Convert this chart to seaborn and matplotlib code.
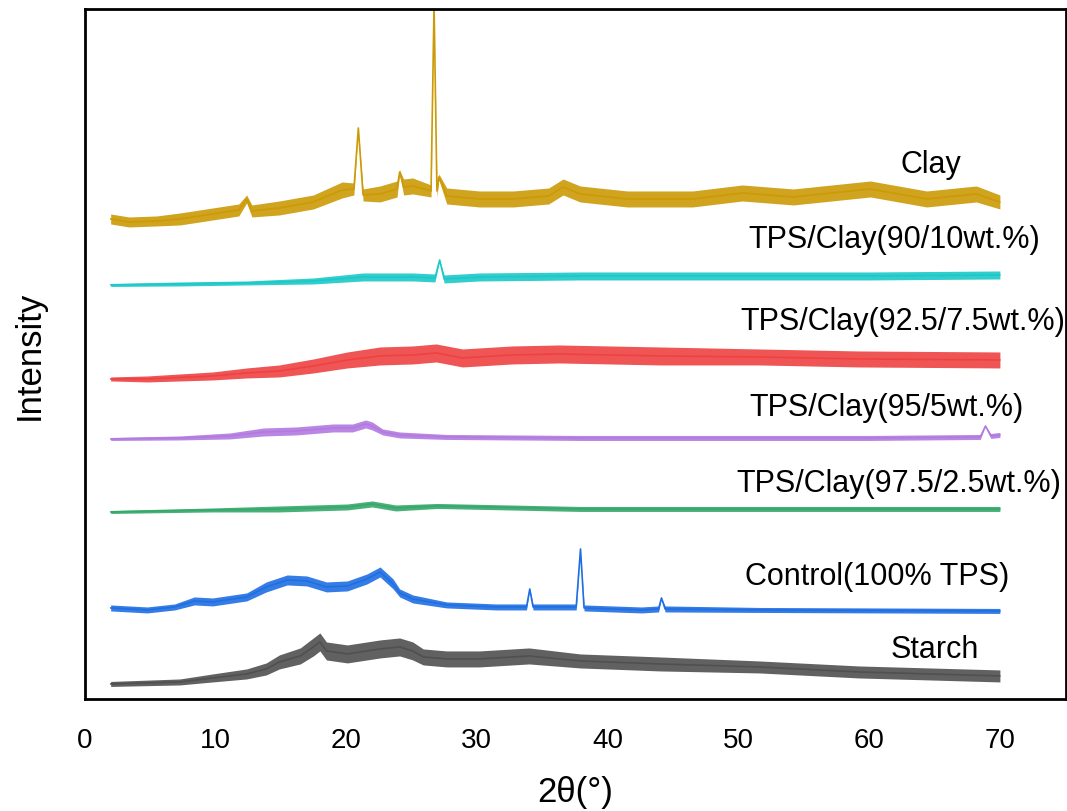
# XRD patterns of starch, TPS and TPS/clay films (stacked)
import numpy as np
import pandas as pd
import matplotlib
matplotlib.use("Agg")
import matplotlib.pyplot as plt
import seaborn as sns

# values (stacked intensity, arbitrary units)
# each curve: 2theta points, mean intensity, half-width of the noise band
clay_x = [2, 3.4, 5.5, 7.3, 9.8, 11.8, 12.4, 12.8, 14.9, 17.5, 19.7, 20.6, 20.94, 21.3, 22.6,
          23.9, 24.1, 24.4, 25.1, 26.5, 26.73, 26.95, 27.1, 27.7, 30.2, 32.8, 35.5, 36.6, 37.9,
          41.5, 46.5, 50.3, 54.2, 60.1, 64.4, 68.2, 70]
clay_y = [480, 477, 478, 480, 485, 489, 500, 488, 491, 497, 509, 510, 571, 504, 505,
          510, 527, 512, 513, 508, 695, 508, 522, 503, 500, 500, 503, 512, 505,
          500, 500, 506, 502, 510, 500, 505, 497]
clay_s = [5, 5, 5, 6, 6, 6, 4, 6, 7, 7, 8, 6, 0, 6, 8,
          8, 2, 8, 8, 6, 0, 6, 3, 8, 8, 8, 8, 8, 8,
          8, 8, 8, 8, 8, 8, 8, 7]

tc90_x = [2, 7.3, 12.4, 17.5, 21.3, 25.1, 26.8, 27.16, 27.5, 30.2, 37.9, 50, 60, 70]
tc90_y = [414, 415, 416, 418, 422, 422, 421, 439, 420, 422, 423, 423, 423, 424]
tc90_s = [1.5, 2, 2, 3, 4, 4, 4, 0, 4, 4, 4, 4, 4, 4]

tc925_x = [2, 4.8, 9.8, 12.4, 14.9, 17.5, 20.1, 22.6, 25.1, 26.9, 28.9, 32.7, 36.3, 44, 51.6, 59.2, 70]
tc925_y = [320, 320, 323, 326, 328, 333, 339, 343, 344, 346, 341, 344, 345, 343, 342, 340, 339]
tc925_s = [2, 3, 4, 5, 6, 7, 8, 9, 9, 9, 9, 9, 9, 9, 8, 8, 8]

tc95_x = [2, 7.3, 11.1, 13.7, 16.2, 19.0, 20.5, 21.5, 22.0, 22.8, 24.1, 27.7, 37.9, 50, 60,
          68.5, 68.9, 69.3, 70]
tc95_y = [260, 261, 263, 267, 268, 271, 271, 275, 273, 267, 264, 262, 261, 261, 261,
          262, 273, 263, 264]
tc95_s = [1.5, 2, 3, 4, 4, 4, 4, 4, 4, 3, 3, 2.5, 2.5, 2.5, 2.5, 2.5, 0, 2.5, 2.5]

tc975_x = [2, 9.8, 14.9, 20.1, 22.0, 23.8, 27, 37.9, 50, 60, 70]
tc975_y = [187, 189, 190, 192, 195, 191, 193, 190, 190, 190, 190]
tc975_s = [1.5, 2, 3, 3, 3, 3, 2.5, 2.5, 2.5, 2.5, 2.5]

ctrl_x = [2, 4.8, 6.9, 8.4, 9.8, 12.4, 13.9, 15.5, 17.0, 18.5, 20.1, 21.6, 22.6, 23.6, 24.1,
          25.1, 27.7, 31.5, 33.8, 34.05, 34.3, 35.3, 37.6, 37.93, 38.2, 42.6, 43.9, 44.12,
          44.4, 51.6, 70]
ctrl_y = [91, 89, 92, 98, 97, 102, 112, 119, 118, 112, 113, 120, 127, 115, 106,
          100, 94, 92, 92, 110, 92, 92, 92, 150, 91, 89, 90, 101, 90, 89, 88]
ctrl_s = [3, 3, 3, 4, 4, 4, 5, 5, 5, 5, 5, 5, 5, 5, 4,
          4, 3, 3, 3, 0, 3, 3, 3, 0, 3, 3, 3, 0, 3, 2.5, 2.5]

starch_x = [2, 7.3, 9.8, 12.4, 13.9, 14.9, 16.5, 17.5, 18.0, 18.5, 20.1, 22.6, 24.1, 25.1,
            25.9, 27.7, 30.2, 34.0, 37.9, 44, 51.6, 59.2, 70]
starch_y = [15, 17, 21, 25, 30, 37, 43, 52, 57, 48, 45, 50, 52, 48,
            42, 40, 40, 43, 38, 35, 32, 27, 23]
starch_s = [2.5, 3, 4, 5, 6, 7, 8, 9, 9, 9, 9, 9, 9, 9,
            8, 8, 8, 8, 7, 7, 6, 6, 6]

labels = ["Clay", "TPS/Clay(90/10wt.%)", "TPS/Clay(92.5/7.5wt.%)", "TPS/Clay(95/5wt.%)",
          "TPS/Clay(97.5/2.5wt.%)", "Control(100% TPS)", "Starch"]
label_x = [64.7, 61.9, 62.6, 61.3, 62.3, 60.6, 65.0]
label_y = [535, 460, 378, 292, 216, 123, 50]

curves = [(clay_x, clay_y, clay_s), (tc90_x, tc90_y, tc90_s), (tc925_x, tc925_y, tc925_s),
          (tc95_x, tc95_y, tc95_s), (tc975_x, tc975_y, tc975_s), (ctrl_x, ctrl_y, ctrl_s),
          (starch_x, starch_y, starch_s)]
colors = ["#cc9a06", "#1cc8c8", "#ee4242", "#b27ae0", "#35a86a", "#1f6fe3", "#505050"]

sns.set_style("white")
plt.rcParams["font.family"] = ["Liberation Sans", "DejaVu Sans"]
plt.rcParams["text.color"] = "black"
plt.rcParams["axes.labelcolor"] = "black"
plt.rcParams["xtick.color"] = "black"

fig = plt.figure(figsize=(10.67, 8.12), dpi=100)
ax = fig.add_axes([0.0792, 0.138, 0.9198, 0.8497])

for (cx, cy, cs), col in zip(curves, colors):
    df = pd.DataFrame({"two_theta": cx, "intensity": cy, "spread": cs})
    ax.fill_between(df["two_theta"], df["intensity"] - df["spread"],
                    df["intensity"] + df["spread"], color=col, lw=0, alpha=0.9)
    sns.lineplot(data=df, x="two_theta", y="intensity", ax=ax, color=col, lw=1.2,
                 estimator=None, sort=False)

for txt, tx, ty in zip(labels, label_x, label_y):
    ax.text(tx, ty, txt, ha="center", va="center", fontsize=22, color="black")

ax.set_xlim(0, 75.05)
ax.set_ylim(0, 690)
ax.set_xticks(range(0, 71, 10))
ax.set_yticks([])
ax.tick_params(axis="x", length=0, pad=20, labelsize=20, labelcolor="black")
ax.set_xlabel("2θ(°)", fontsize=25, labelpad=16, color="black")
ax.set_ylabel("Intensity", fontsize=25, labelpad=28, color="black")
for sp in ax.spines.values():
    sp.set_visible(True)
    sp.set_color("black")
    sp.set_linewidth(2)

fig.savefig("out.png", dpi=100)
